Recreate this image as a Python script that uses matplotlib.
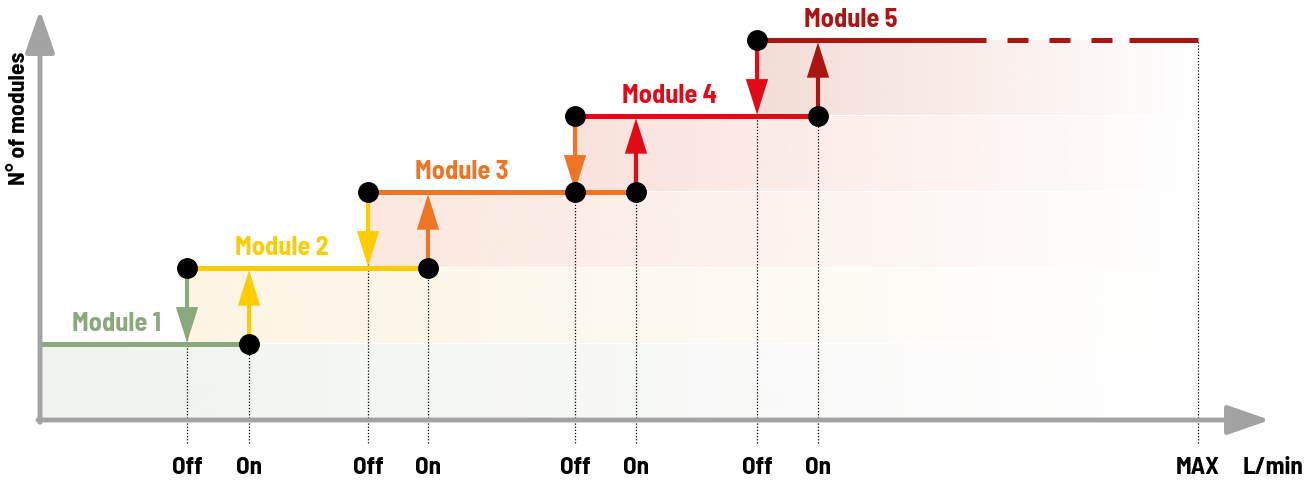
import numpy as np
import matplotlib
matplotlib.use('Agg')
import matplotlib.pyplot as plt
from matplotlib.colors import to_rgb

plt.rcParams['font.family'] = ['Barlow Semi Condensed', 'DejaVu Sans']
plt.rcParams['font.weight'] = 'bold'

# Данные (x — расход в условных единицах, y — число модулей)
modules = ['Module 1', 'Module 2', 'Module 3', 'Module 4', 'Module 5']
levels = [1, 2, 3, 4, 5]
off_x = [147, 328, 535, 717]
on_x = [209, 388, 596, 778]
max_x = 1158
label_x = [76, 242, 422, 630, 811]
colors = ['#8aa97c', '#ffcc00', '#ef7424', '#e30a17', '#ad1512']
band_colors = ['#f0f3ef', '#fdf5e4', '#fbe8df', '#fae2dc', '#f4ddd6']

fig = plt.figure(figsize=(13.13, 4.8), dpi=100)
ax = fig.add_axes([0, 0, 1, 1])
ax.set_xlim(-40, 1273)
ax.set_ylim(-60 / 76, 420 / 76)
ax.axis('off')

# Градиентные полосы
band_end = max_x
starts = [0] + off_x
grad = np.linspace(1.0, 0.0, 256)
for i in range(5):
    rgba = np.zeros((1, 256, 4))
    rgba[..., :3] = to_rgb(band_colors[i])
    rgba[..., 3] = grad
    ax.imshow(rgba, extent=[starts[i], band_end, levels[i] - 1 + 0.01, levels[i] - 0.01],
              aspect='auto', interpolation='bilinear', zorder=0)

# Пунктирные вертикали
bottom = -0.3
dot_ls = (0, (1, 1.5))
for i in range(4):
    ax.plot([off_x[i], off_x[i]], [bottom, levels[i + 1]], ls=dot_ls, color='black', lw=0.9, zorder=1)
    ax.plot([on_x[i], on_x[i]], [bottom, levels[i]], ls=dot_ls, color='black', lw=0.9, zorder=1)
ax.plot([max_x, max_x], [bottom, levels[4]], ls=dot_ls, color='black', lw=0.9, zorder=1)

# Горизонтальные уровни
ends = on_x + [max_x]
lw_lvl = 3.6
for i in range(4):
    ax.plot([starts[i], ends[i]], [levels[i], levels[i]], color=colors[i], lw=lw_lvl,
            solid_capstyle='butt', zorder=2)
# Module 5: сплошная, потом штрихи, потом снова сплошная
dash_a, dash_b = 946, 1089
ax.plot([starts[4], dash_a], [levels[4], levels[4]], color=colors[4], lw=lw_lvl, solid_capstyle='butt', zorder=2)
ax.plot([dash_a, dash_b], [levels[4], levels[4]], color=colors[4], lw=lw_lvl,
        ls=(4.2, (4.2, 4.2)), dash_capstyle='butt', zorder=2)
ax.plot([dash_b, max_x], [levels[4], levels[4]], color=colors[4], lw=lw_lvl, solid_capstyle='butt', zorder=2)

# Стрелки вкл/выкл
def arrow(x, y0, y1, c):
    ax.annotate('', xy=(x, y1), xytext=(x, y0),
                arrowprops=dict(arrowstyle='-|>,head_length=0.95,head_width=0.3', mutation_scale=20,
                                lw=3, color=c, shrinkA=0, shrinkB=0, joinstyle='miter'),
                zorder=3)

for i in range(4):
    arrow(off_x[i], levels[i + 1] - 0.1, levels[i] + 0.02, colors[i])
    arrow(on_x[i], levels[i] + 0.1, levels[i + 1] - 0.03, colors[i + 1])

# Точки
dots_x = []
dots_y = []
for i in range(4):
    dots_x += [off_x[i], on_x[i]]
    dots_y += [levels[i + 1], levels[i]]
dots_x.append(off_x[2])
dots_y.append(levels[2])
ax.plot(dots_x, dots_y, 'o', color='black', ms=14, zorder=4)

# Оси
axis_c = '#a3a3a3'
ax.annotate('', xy=(0, 410 / 76), xytext=(0, -0.03),
            arrowprops=dict(arrowstyle='-|>,head_length=1.3,head_width=0.45', mutation_scale=20,
                            lw=3.5, color=axis_c, shrinkA=0, shrinkB=0), zorder=5)
ax.annotate('', xy=(1230, 0), xytext=(-2, 0),
            arrowprops=dict(arrowstyle='-|>,head_length=1.3,head_width=0.45', mutation_scale=20,
                            lw=3.5, color=axis_c, shrinkA=0, shrinkB=0), zorder=5)

# Подписи
for i in range(5):
    ax.text(label_x[i], levels[i] + 0.17, modules[i], color=colors[i], fontsize=19,
            fontweight='bold', ha='center', va='baseline', zorder=6)

tick_y = -54 / 76
fs = 18
for i in range(4):
    ax.text(off_x[i], tick_y, 'Off', fontsize=fs, fontweight='bold', ha='center', va='baseline')
    ax.text(on_x[i], tick_y, 'On', fontsize=fs, fontweight='bold', ha='center', va='baseline')
ax.text(max_x, tick_y, 'MAX', fontsize=fs, fontweight='bold', ha='center', va='baseline')
ax.text(1233, tick_y, 'L/min', fontsize=fs, fontweight='bold', ha='center', va='baseline')
ax.text(-21, 302 / 76, 'N° of modules', fontsize=17, fontweight='bold', ha='center', va='center',
        rotation=90)

fig.savefig('out.png', dpi=100)
